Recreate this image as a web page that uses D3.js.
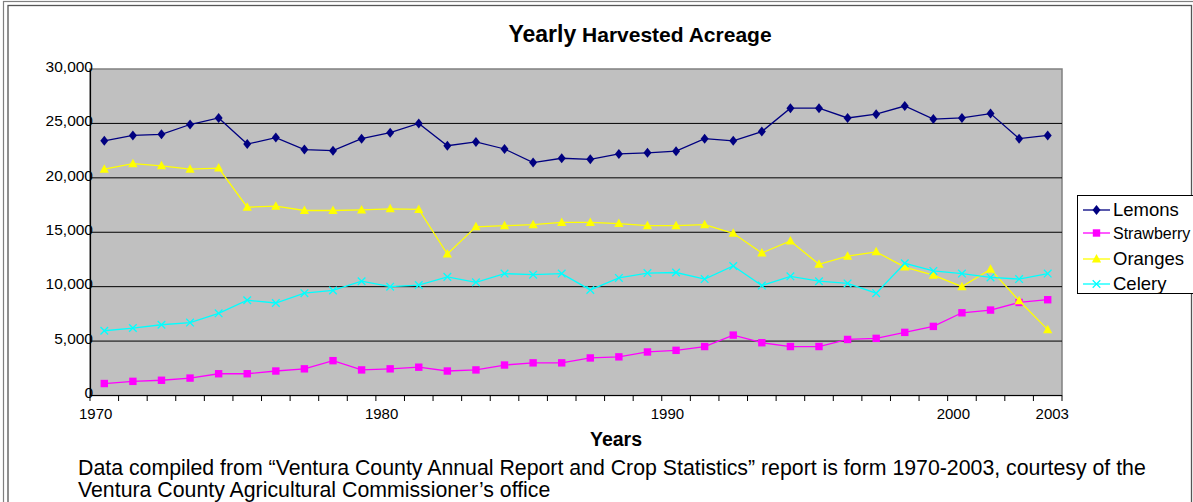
<!DOCTYPE html>
<html>
<head>
<meta charset="utf-8">
<script src="https://cdn.jsdelivr.net/npm/d3@7/dist/d3.min.js"></script>
<style>
  html, body { margin: 0; padding: 0; background: #fff; }
  svg { display: block; font-family: "Liberation Sans", Arial, sans-serif; }
</style>
</head>
<body>
<svg id="chart" width="1193" height="502"></svg>
<script>
const years = d3.range(1970, 2004);
const lemons = [23400, 23900, 24000, 24900, 25500, 23100, 23700, 22600, 22500, 23600,
  24150, 25000, 22950, 23300, 22650, 21400, 21800, 21700, 22200, 22300,
  22450, 23600, 23400, 24250, 26400, 26400, 25500, 25850, 26600, 25400,
  25500, 25900, 23600, 23900];
const strawberry = [1100, 1300, 1400, 1600, 2000, 2000, 2250, 2450, 3200, 2350,
  2450, 2600, 2250, 2350, 2800, 3000, 3000, 3450, 3550, 4000,
  4150, 4500, 5550, 4850, 4500, 4500, 5150, 5250, 5800, 6350,
  7600, 7850, 8550, 8800];
const oranges = [20800, 21300, 21100, 20800, 20900, 17300, 17400, 17000, 17000, 17050,
  17150, 17100, 13000, 15500, 15600, 15700, 15900, 15900, 15800, 15600,
  15600, 15700, 14900, 13100, 14200, 12050, 12800, 13200, 11800, 11050,
  10000, 11600, 8700, 6050];
const celery = [5950, 6200, 6500, 6700, 7550, 8750, 8500, 9400, 9650, 10500,
  10000, 10150, 10900, 10400, 11200, 11100, 11200, 9700, 10800, 11250,
  11300, 10700, 11900, 10100, 10950, 10500, 10300, 9400, 12150, 11450,
  11200, 10850, 10700, 11200];
const yTicks = [0, 5000, 10000, 15000, 20000, 25000, 30000];
const xTickLabels = [1970, 1980, 1990, 2000, 2003];

const seriesList = [
  { name: "Lemons", values: lemons, color: "#000080", marker: "diamond" },
  { name: "Strawberry", values: strawberry, color: "#FF00FF", marker: "square" },
  { name: "Oranges", values: oranges, color: "#FFFF00", marker: "triangle" },
  { name: "Celery", values: celery, color: "#00FFFF", marker: "x" }
];

const svg = d3.select("#chart");
const plot = { left: 90, right: 1062, top: 69, bottom: 395.5 };

// Frame
svg.append("rect").attr("x", 3.5).attr("y", 1.5).attr("width", 1195).attr("height", 510)
  .attr("fill", "none").attr("stroke", "#808080").attr("stroke-width", 1.2);
svg.append("rect").attr("x", 8).attr("y", 5.5).attr("width", 1183.5).attr("height", 510)
  .attr("fill", "none").attr("stroke", "#555").attr("stroke-width", 1.3);

const x = d3.scaleBand().domain(years).range([plot.left, plot.right]).paddingInner(0).paddingOuter(0);
const y = d3.scaleLinear().domain([0, 30000]).range([plot.bottom, plot.top]);
const cx = d => x(d) + x.bandwidth() / 2;

// Plot area
svg.append("rect").attr("x", plot.left).attr("y", plot.top)
  .attr("width", plot.right - plot.left).attr("height", plot.bottom - plot.top)
  .attr("fill", "#C0C0C0").attr("stroke", "#808080").attr("stroke-width", 1.5);

// Gridlines
svg.append("g").selectAll("line").data(yTicks.filter(v => v > 0 && v < 30000)).join("line")
  .attr("x1", plot.left).attr("x2", plot.right)
  .attr("y1", d => y(d)).attr("y2", d => y(d))
  .attr("stroke", "#000").attr("stroke-width", 1);

// Y axis
const yAxis = svg.append("g").attr("transform", `translate(${plot.left},0)`)
  .call(d3.axisLeft(y).tickValues(yTicks).tickSize(0).tickFormat(d3.format(",")));
yAxis.select(".domain").attr("stroke", "#000").attr("stroke-width", 1.2);
yAxis.selectAll("text").attr("font-size", "15.5px").attr("fill", "#000")
  .attr("x", 3).attr("dy", "0.15em")
  .attr("font-family", "Liberation Sans, Arial, sans-serif");

// X axis: ticks at category boundaries
const boundaries = years.map(d => x(d)).concat([plot.right]);
const xg = svg.append("g");
xg.append("line").attr("x1", plot.left).attr("x2", plot.right)
  .attr("y1", plot.bottom).attr("y2", plot.bottom).attr("stroke", "#000").attr("stroke-width", 1.2);
xg.selectAll("line.tick").data(boundaries).join("line").attr("class", "tick")
  .attr("x1", d => d).attr("x2", d => d)
  .attr("y1", plot.bottom).attr("y2", plot.bottom + 5.5)
  .attr("stroke", "#000").attr("stroke-width", 1);
xg.selectAll("text").data(xTickLabels).join("text")
  .attr("x", d => d === 2003 ? x(d) + x.bandwidth() * 0.66 : x(d) + x.bandwidth() * 0.2)
  .attr("y", 419).attr("text-anchor", "middle")
  .attr("font-size", "15px").attr("fill", "#000").text(d => d);

// Lines and markers
const line = d3.line().x((v, i) => cx(years[i])).y(v => y(v));
function drawMarker(g, type, color) {
  if (type === "diamond") {
    g.append("path").attr("d", "M0,-5L4,0L0,5L-4,0Z").attr("fill", color);
  } else if (type === "square") {
    g.append("rect").attr("x", -3.7).attr("y", -3.7).attr("width", 7.4).attr("height", 7.4).attr("fill", color);
  } else if (type === "triangle") {
    g.append("path").attr("d", "M0,-5L4.6,3.5L-4.6,3.5Z").attr("fill", color);
  } else if (type === "x") {
    g.append("path").attr("d", "M-3.8,-3.8L3.8,3.8M-3.8,3.8L3.8,-3.8").attr("stroke", color).attr("stroke-width", 1.3).attr("fill", "none");
  }
}
seriesList.forEach(s => {
  const g = svg.append("g");
  g.append("path").attr("d", line(s.values)).attr("fill", "none")
    .attr("stroke", s.color).attr("stroke-width", 1.3);
  g.selectAll("g.m").data(s.values).join("g").attr("class", "m")
    .attr("transform", (v, i) => `translate(${cx(years[i])},${y(v)})`)
    .each(function () { drawMarker(d3.select(this), s.marker, s.color); });
});

// Title
const title = svg.append("text").attr("x", 640).attr("y", 42).attr("text-anchor", "middle")
  .attr("font-weight", "bold").attr("fill", "#000");
title.append("tspan").attr("font-size", "23px").text("Yearly");
title.append("tspan").attr("font-size", "21px").text(" Harvested Acreage");

// Axis title
svg.append("text").attr("x", 616).attr("y", 446).attr("text-anchor", "middle")
  .attr("font-weight", "bold").attr("font-size", "19.5px").attr("fill", "#000").text("Years");

// Footnote
const notes = [
  "Data compiled from \u201cVentura County Annual Report and Crop Statistics\u201d report is form 1970-2003, courtesy of the",
  "Ventura County Agricultural Commissioner\u2019s office"
];
svg.append("g").selectAll("text").data(notes).join("text")
  .attr("x", 78).attr("y", (d, i) => 475 + i * 22)
  .attr("font-size", "21.3px").attr("fill", "#000").text(d => d);

// Legend
const lg = svg.append("g");
lg.append("rect").attr("x", 1077.5).attr("y", 195.5).attr("width", 130).attr("height", 98)
  .attr("fill", "#fff").attr("stroke", "#000").attr("stroke-width", 1);
const legendY = [210, 233, 259, 284];
const legendSize = ["18.5px", "16px", "18.5px", "18.5px"];
seriesList.forEach((s, i) => {
  const gy = legendY[i];
  lg.append("line").attr("x1", 1083).attr("x2", 1110).attr("y1", gy).attr("y2", gy)
    .attr("stroke", s.color).attr("stroke-width", 1.3);
  const mg = lg.append("g").attr("transform", `translate(1096.5,${gy})`);
  drawMarker(mg, s.marker, s.color);
  lg.append("text").attr("x", 1113).attr("y", gy).attr("dy", "0.35em")
    .attr("font-size", legendSize[i]).attr("fill", "#000").text(s.name);
});
</script>
</body>
</html>
